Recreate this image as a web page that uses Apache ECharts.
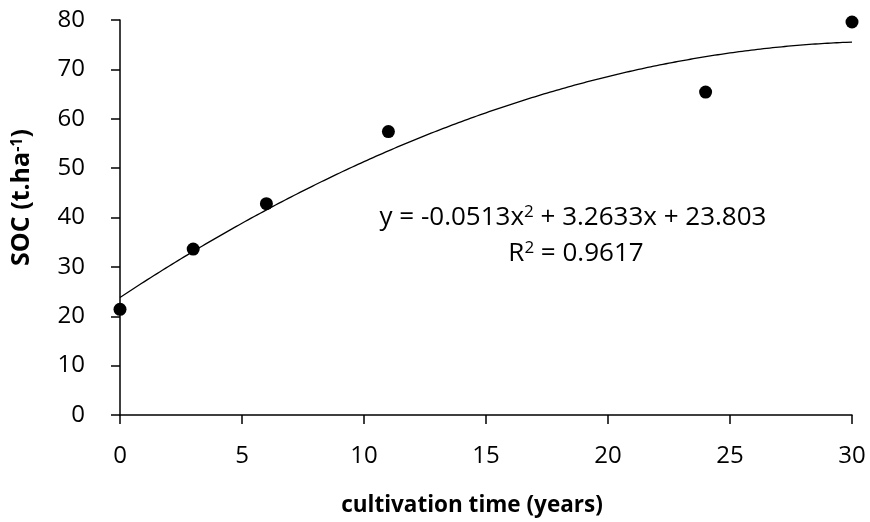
<!DOCTYPE html>
<html>
<head>
<meta charset="utf-8">
<script src="https://cdn.jsdelivr.net/npm/echarts@6/dist/echarts.min.js"></script>
<style>
  html, body { margin: 0; padding: 0; background: #fff; }
  #chart { width: 870px; height: 522px; }
</style>
</head>
<body>
<div id="chart"></div>
<script>
// Measured soil organic carbon by years under cultivation
const years = [0, 3, 6, 11, 24, 30];
const soc = [21.4, 33.6, 42.8, 57.4, 65.4, 79.6];

// Quadratic trend line coefficients as printed on the chart: a*x^2 + b*x + c
const trendCoef = [-0.0513, 3.2633, 23.803];
const trendRange = [0, 30];
const trendLabel = ['y = -0.0513x{sup|2} + 3.2633x + 23.803', 'R{sup|2} = 0.9617'];

const xTicks = { min: 0, max: 30, interval: 5 };
const yTicks = { min: 0, max: 80, interval: 10 };

// Sample the printed trend equation across the x range
const trendPoints = [];
for (let x = trendRange[0]; x <= trendRange[1] + 1e-9; x += 0.25) {
  trendPoints.push([x, trendCoef[0] * x * x + trendCoef[1] * x + trendCoef[2]]);
}

const FONT = '"Open Sans", "Liberation Sans", sans-serif';
const supStyle = { fontFamily: FONT, fontSize: 17, fill: '#000', verticalAlign: 'top', lineHeight: 17 };

function equationText(text, cx, cy) {
  return {
    type: 'text',
    x: cx,
    y: cy,
    style: {
      text: text,
      align: 'center',
      verticalAlign: 'middle',
      fill: '#000',
      fontFamily: FONT,
      fontSize: 26,
      lineHeight: 28,
      rich: { sup: supStyle }
    }
  };
}

const chart = echarts.init(document.getElementById('chart'), null, { renderer: 'canvas' });

chart.setOption({
  backgroundColor: '#ffffff',
  animation: false,
  grid: { left: 120, right: 18, top: 20, bottom: 105, containLabel: false },
  xAxis: {
    type: 'value',
    min: xTicks.min, max: xTicks.max, interval: xTicks.interval,
    axisLine: { show: true, onZero: false, lineStyle: { color: '#000', width: 1.5 } },
    axisTick: { show: true, inside: false, length: 9, lineStyle: { color: '#000', width: 1.5 } },
    axisLabel: { color: '#000', fontFamily: FONT, fontSize: 24, margin: 29 },
    splitLine: { show: false },
    name: 'cultivation time (years)',
    nameLocation: 'middle',
    nameGap: 79,
    nameTextStyle: { color: '#000', fontFamily: FONT, fontSize: 22.5, fontWeight: 'bold', padding: [0, 28, 0, 0] }
  },
  yAxis: {
    type: 'value',
    min: yTicks.min, max: yTicks.max, interval: yTicks.interval,
    axisLine: { show: true, onZero: false, lineStyle: { color: '#000', width: 1.5 } },
    axisTick: { show: true, inside: false, length: 9, lineStyle: { color: '#000', width: 1.5 } },
    axisLabel: { color: '#000', fontFamily: FONT, fontSize: 24, margin: 35 },
    splitLine: { show: false },
    name: 'SOC (t.ha{sup|-1})',
    nameLocation: 'middle',
    nameGap: 86,
    nameRotate: 90,
    nameTextStyle: {
      color: '#000', fontFamily: FONT, fontSize: 25, fontWeight: 'bold',
      letterSpacing: 2,
      padding: [0, 0, 0, 40],
      rich: {
        sup: { fontFamily: FONT, fontSize: 16, fontWeight: 'bold', color: '#000', verticalAlign: 'top', lineHeight: 16 }
      }
    }
  },
  graphic: [
    equationText(trendLabel[0], 573, 218),
    equationText(trendLabel[1], 576, 254)
  ],
  series: [
    {
      type: 'line',
      data: trendPoints,
      showSymbol: false,
      smooth: true,
      lineStyle: { color: '#000', width: 1.3 },
      z: 2
    },
    {
      type: 'scatter',
      data: years.map((x, i) => [x, soc[i]]),
      symbol: 'circle',
      symbolSize: 13,
      itemStyle: { color: '#000', opacity: 1 },
      z: 3
    }
  ]
});
</script>
</body>
</html>
